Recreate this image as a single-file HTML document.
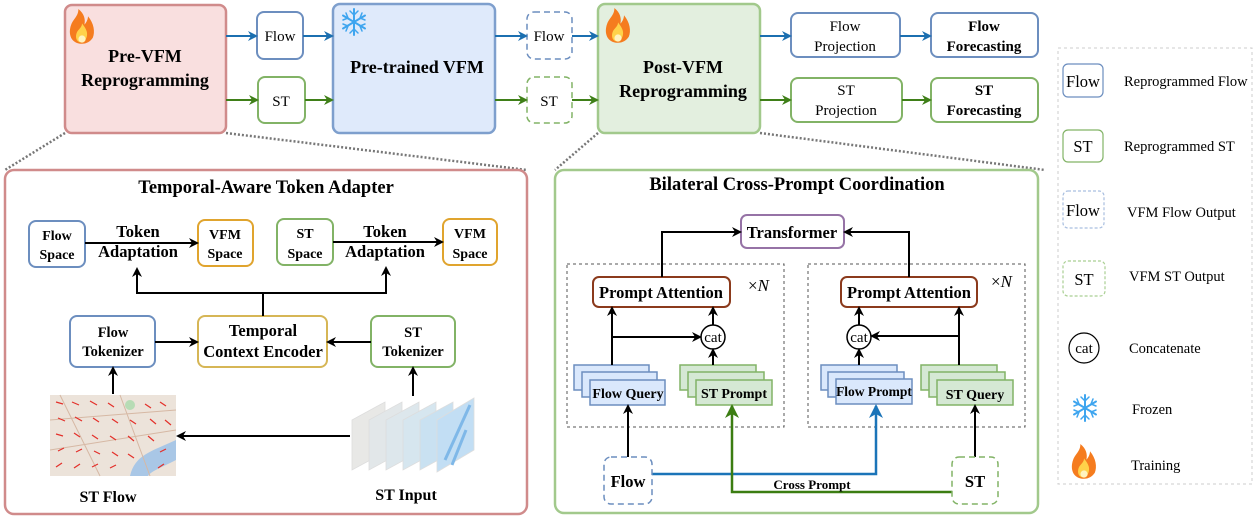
<!DOCTYPE html>
<html><head><meta charset="utf-8"><style>
html,body{margin:0;padding:0;background:#fff;}
svg{display:block;font-family:"Liberation Serif",serif;}
.b{font-weight:bold;}
</style></head><body>
<svg width="1259" height="521" viewBox="0 0 1259 521" xmlns="http://www.w3.org/2000/svg">
<defs>
<marker id="ak" markerWidth="10" markerHeight="10" refX="8" refY="5" orient="auto" markerUnits="userSpaceOnUse"><path d="M0,0 L10,5 L0,10 L3,5 z" fill="#000"/></marker>
<marker id="abl" markerWidth="10" markerHeight="10" refX="8" refY="5" orient="auto" markerUnits="userSpaceOnUse"><path d="M0,0 L10,5 L0,10 L3,5 z" fill="#1b6fb0"/></marker>
<marker id="agr" markerWidth="10" markerHeight="10" refX="8" refY="5" orient="auto" markerUnits="userSpaceOnUse"><path d="M0,0 L10,5 L0,10 L3,5 z" fill="#3f7f18"/></marker>
<marker id="abl2" markerWidth="14" markerHeight="14" refX="12" refY="7" orient="auto" markerUnits="userSpaceOnUse"><path d="M0,0 L14,7 L0,14 L4,7 z" fill="#1b74b8"/></marker>
<marker id="agr2" markerWidth="14" markerHeight="14" refX="12" refY="7" orient="auto" markerUnits="userSpaceOnUse"><path d="M0,0 L14,7 L0,14 L4,7 z" fill="#3b7d12"/></marker>
<g id="flame"><path d="M0,14 C-9,14 -12,6 -9,-2 C-7,-7 -3,-9 -3,-15 C2,-11 3,-6 2,-2 C4,-4 5,-7 5,-9 C10,-3 11,4 9,9 C7,12 4,14 0,14 z" fill="#f57c1f"/><path d="M0,13 C-5,13 -6,8 -4,4 C-2,1 0,0 0,-3 C3,1 5,4 4,8 C3,11 2,13 0,13 z" fill="#ffd24a"/><ellipse cx="0" cy="10" rx="3" ry="3" fill="#fff3c0"/></g>
<g id="snow" stroke="#3ea5ef" stroke-width="2" stroke-linecap="round"><line x1="0" y1="-13" x2="0" y2="13"/><line x1="-11" y1="-6.5" x2="11" y2="6.5"/><line x1="-11" y1="6.5" x2="11" y2="-6.5"/><path d="M-4,-11 L0,-7 L4,-11 M-4,11 L0,7 L4,11 M-11,-2 L-6,-4 L-8,-9 M11,2 L6,4 L8,9 M-11,2 L-6,4 L-8,9 M11,-2 L6,-4 L8,-9" fill="none" stroke-width="1.5"/></g>
</defs>

<g stroke="#777" stroke-width="2.5" stroke-dasharray="2,2" fill="none">
<line x1="65" y1="133" x2="5" y2="170"/><line x1="226" y1="133" x2="527" y2="170"/>
<line x1="598" y1="133" x2="555" y2="170"/><line x1="760" y1="133" x2="1045" y2="170"/>
</g>

<rect x="65" y="5" width="161" height="128" rx="7" fill="#f9dfdf" stroke="#d08b8b" stroke-width="2.5"/>
<g transform="translate(82,27) scale(1.2)"><use href="#flame"/></g>
<text x="145" y="62" text-anchor="middle" class="b" font-size="18">Pre-VFM</text>
<text x="145" y="86" text-anchor="middle" class="b" font-size="18">Reprogramming</text>

<rect x="257" y="12" width="46" height="47" rx="7" fill="#fff" stroke="#6c8ebf" stroke-width="2"/>
<text x="280" y="41" text-anchor="middle" font-size="15">Flow</text>
<rect x="258" y="77" width="47" height="46" rx="7" fill="#fff" stroke="#82b366" stroke-width="2"/>
<text x="281" y="106" text-anchor="middle" font-size="15">ST</text>

<rect x="333" y="4" width="162" height="129" rx="7" fill="#dfeafb" stroke="#7e9fcd" stroke-width="2.5"/>
<use href="#snow" x="354" y="22"/>
<text x="417" y="73" text-anchor="middle" class="b" font-size="18">Pre-trained VFM</text>

<rect x="527" y="12" width="45" height="47" rx="7" fill="#fff" stroke="#6c8ebf" stroke-width="1.5" stroke-dasharray="6,4"/>
<text x="549" y="41" text-anchor="middle" font-size="15">Flow</text>
<rect x="527" y="77" width="45" height="46" rx="7" fill="#fff" stroke="#82b366" stroke-width="1.5" stroke-dasharray="6,4"/>
<text x="549" y="106" text-anchor="middle" font-size="15">ST</text>

<rect x="598" y="4" width="162" height="129" rx="7" fill="#e3efdf" stroke="#a2c98c" stroke-width="2.5"/>
<g transform="translate(618,26) scale(1.2)"><use href="#flame"/></g>
<text x="683" y="73" text-anchor="middle" class="b" font-size="18">Post-VFM</text>
<text x="683" y="97" text-anchor="middle" class="b" font-size="18">Reprogramming</text>

<rect x="791" y="13" width="109" height="44" rx="7" fill="#fff" stroke="#6c8ebf" stroke-width="2"/>
<text x="845" y="31" text-anchor="middle" font-size="15">Flow</text>
<text x="845" y="51" text-anchor="middle" font-size="15">Projection</text>
<rect x="931" y="13" width="107" height="44" rx="7" fill="#fff" stroke="#6c8ebf" stroke-width="2"/>
<text x="984" y="31" text-anchor="middle" class="b" font-size="15">Flow</text>
<text x="984" y="51" text-anchor="middle" class="b" font-size="15">Forecasting</text>
<rect x="791" y="78" width="111" height="44" rx="7" fill="#fff" stroke="#82b366" stroke-width="2"/>
<text x="846" y="95" text-anchor="middle" font-size="15">ST</text>
<text x="846" y="115" text-anchor="middle" font-size="15">Projection</text>
<rect x="931" y="78" width="107" height="44" rx="7" fill="#fff" stroke="#82b366" stroke-width="2"/>
<text x="984" y="95" text-anchor="middle" class="b" font-size="15">ST</text>
<text x="984" y="115" text-anchor="middle" class="b" font-size="15">Forecasting</text>

<g stroke-width="2" fill="none">
<g stroke="#1b6fb0" marker-end="url(#abl)">
<line x1="226" y1="36" x2="256" y2="36"/><line x1="303" y1="36" x2="332" y2="36"/>
<line x1="495" y1="36" x2="526" y2="36"/><line x1="572" y1="36" x2="597" y2="36"/>
<line x1="760" y1="36" x2="790" y2="36"/><line x1="900" y1="36" x2="930" y2="36"/>
</g>
<g stroke="#3f7f18" marker-end="url(#agr)">
<line x1="226" y1="100" x2="257" y2="100"/><line x1="305" y1="100" x2="332" y2="100"/>
<line x1="495" y1="100" x2="526" y2="100"/><line x1="572" y1="100" x2="597" y2="100"/>
<line x1="760" y1="100" x2="790" y2="100"/><line x1="902" y1="100" x2="930" y2="100"/>
</g>
</g>

<!-- legend -->
<rect x="1058" y="48" width="194" height="436" fill="none" stroke="#ccc" stroke-width="1" stroke-dasharray="3,3"/>
<rect x="1063" y="64" width="40" height="33" rx="5" fill="#fff" stroke="#6c8ebf" stroke-width="1.2"/>
<text x="1083" y="87" text-anchor="middle" font-size="16.5">Flow</text>
<text x="1124" y="86" font-size="14.5">Reprogrammed Flow</text>
<rect x="1063" y="130" width="40" height="32" rx="5" fill="#fff" stroke="#82b366" stroke-width="1.2"/>
<text x="1083" y="152" text-anchor="middle" font-size="16.5">ST</text>
<text x="1124" y="151" font-size="14.5">Reprogrammed ST</text>
<rect x="1063" y="191" width="41" height="37" rx="5" fill="#fff" stroke="#a9bfe0" stroke-width="1.2" stroke-dasharray="3,2"/>
<text x="1083" y="216" text-anchor="middle" font-size="16.5">Flow</text>
<text x="1127" y="217" font-size="14.5">VFM Flow Output</text>
<rect x="1063" y="261" width="42" height="35" rx="5" fill="#fff" stroke="#a9cf92" stroke-width="1.2" stroke-dasharray="3,2"/>
<text x="1084" y="285" text-anchor="middle" font-size="16.5">ST</text>
<text x="1129" y="281" font-size="14.5">VFM ST Output</text>
<circle cx="1084" cy="348" r="15" fill="#fff" stroke="#000" stroke-width="1.2"/>
<text x="1084" y="353" text-anchor="middle" font-size="15">cat</text>
<text x="1129" y="353" font-size="14.5">Concatenate</text>
<use href="#snow" x="1085" y="408"/>
<text x="1132" y="414" font-size="14.5">Frozen</text>
<g transform="translate(1084,462) scale(1.2)"><use href="#flame"/></g>
<text x="1131" y="470" font-size="14.5">Training</text>

<!-- left panel -->
<rect x="5" y="170" width="522" height="344" rx="9" fill="#fff" stroke="#d08b8b" stroke-width="2.5"/>
<text x="266" y="193" text-anchor="middle" class="b" font-size="18.5">Temporal-Aware Token Adapter</text>

<rect x="29" y="221" width="56" height="46" rx="7" fill="#fff" stroke="#6c8ebf" stroke-width="2"/>
<text x="57" y="240" text-anchor="middle" class="b" font-size="14">Flow</text>
<text x="57" y="259" text-anchor="middle" class="b" font-size="14">Space</text>
<text x="138" y="237" text-anchor="middle" class="b" font-size="16.5">Token</text>
<text x="138" y="257" text-anchor="middle" class="b" font-size="16.5">Adaptation</text>
<rect x="198" y="220" width="55" height="46" rx="7" fill="#fff" stroke="#e0a42e" stroke-width="2"/>
<text x="225" y="239" text-anchor="middle" class="b" font-size="14">VFM</text>
<text x="225" y="258" text-anchor="middle" class="b" font-size="14">Space</text>
<rect x="277" y="219" width="56" height="46" rx="7" fill="#fff" stroke="#82b366" stroke-width="2"/>
<text x="305" y="238" text-anchor="middle" class="b" font-size="14">ST</text>
<text x="305" y="258" text-anchor="middle" class="b" font-size="14">Space</text>
<text x="385" y="237" text-anchor="middle" class="b" font-size="16.5">Token</text>
<text x="385" y="257" text-anchor="middle" class="b" font-size="16.5">Adaptation</text>
<rect x="443" y="219" width="54" height="46" rx="7" fill="#fff" stroke="#e0a42e" stroke-width="2"/>
<text x="470" y="238" text-anchor="middle" class="b" font-size="14">VFM</text>
<text x="470" y="258" text-anchor="middle" class="b" font-size="14">Space</text>

<rect x="70" y="316" width="85" height="51" rx="7" fill="#fff" stroke="#6c8ebf" stroke-width="2"/>
<text x="113" y="337" text-anchor="middle" class="b" font-size="14.5">Flow</text>
<text x="113" y="356" text-anchor="middle" class="b" font-size="14.5">Tokenizer</text>
<rect x="198" y="316" width="129" height="51" rx="7" fill="#fff" stroke="#d6b656" stroke-width="2"/>
<text x="263" y="336" text-anchor="middle" class="b" font-size="16.5">Temporal</text>
<text x="263" y="357" text-anchor="middle" class="b" font-size="16.5">Context Encoder</text>
<rect x="371" y="316" width="84" height="51" rx="7" fill="#fff" stroke="#82b366" stroke-width="2"/>
<text x="413" y="337" text-anchor="middle" class="b" font-size="14.5">ST</text>
<text x="413" y="356" text-anchor="middle" class="b" font-size="14.5">Tokenizer</text>

<g stroke="#000" stroke-width="2" fill="none">
<line x1="85" y1="243" x2="197" y2="243" marker-end="url(#ak)"/>
<line x1="333" y1="242" x2="442" y2="242" marker-end="url(#ak)"/>
<polyline points="263,316 263,293 137,293 137,269" marker-end="url(#ak)"/>
<polyline points="263,293 386,293 386,268" marker-end="url(#ak)"/>
<line x1="155" y1="342" x2="197" y2="342" marker-end="url(#ak)"/>
<line x1="371" y1="342" x2="328" y2="342" marker-end="url(#ak)"/>
<line x1="113" y1="394" x2="113" y2="368" marker-end="url(#ak)"/>
<line x1="413" y1="396" x2="413" y2="368" marker-end="url(#ak)"/>
<line x1="350" y1="436" x2="178" y2="436" marker-end="url(#ak)"/>
</g>

<rect x="50" y="395" width="126" height="81" fill="#ece3da"/>
<path d="M130,476 C135,455 150,452 176,440 L176,460 C160,468 150,472 148,476 z" fill="#a9c7e6"/>
<path d="M50,420 L176,410 M60,395 L100,476 M50,450 L176,430 M120,395 L150,476" stroke="#d6b8a4" stroke-width="1" fill="none"/>
<circle cx="130" cy="405" r="5" fill="#b7dcb5"/>
<g stroke="#e3302a" stroke-width="1.2">
<line x1="56" y1="402" x2="63" y2="404"/><line x1="72" y1="402" x2="79" y2="405"/><line x1="90" y1="401" x2="97" y2="405"/><line x1="108" y1="403" x2="114" y2="407"/><line x1="145" y1="404" x2="151" y2="408"/><line x1="160" y1="402" x2="166" y2="406"/>
<line x1="58" y1="418" x2="65" y2="421"/><line x1="75" y1="417" x2="82" y2="421"/><line x1="93" y1="418" x2="99" y2="422"/><line x1="112" y1="419" x2="118" y2="423"/><line x1="130" y1="420" x2="136" y2="424"/><line x1="150" y1="419" x2="156" y2="424"/><line x1="165" y1="420" x2="171" y2="425"/>
<line x1="56" y1="434" x2="63" y2="436"/><line x1="74" y1="433" x2="80" y2="437"/><line x1="92" y1="435" x2="98" y2="439"/><line x1="110" y1="436" x2="116" y2="440"/><line x1="128" y1="436" x2="134" y2="441"/><line x1="148" y1="436" x2="154" y2="441"/>
<line x1="58" y1="451" x2="64" y2="448"/><line x1="76" y1="452" x2="82" y2="449"/><line x1="94" y1="451" x2="100" y2="454"/><line x1="112" y1="452" x2="118" y2="456"/><line x1="128" y1="454" x2="134" y2="458"/><line x1="160" y1="452" x2="166" y2="449"/>
<line x1="56" y1="467" x2="62" y2="463"/><line x1="74" y1="468" x2="80" y2="464"/><line x1="92" y1="467" x2="98" y2="464"/><line x1="110" y1="468" x2="116" y2="465"/><line x1="158" y1="468" x2="164" y2="464"/>
</g>
<g stroke="#ddd" stroke-width="0.8">
<polygon points="352,420 385,402 385,452 352,470" fill="#e8e8e6"/>
<polygon points="369,420 402,402 402,452 369,470" fill="#e2e7e9"/>
<polygon points="386,420 419,402 419,452 386,470" fill="#dde7ec"/>
<polygon points="403,420 436,402 436,452 403,470" fill="#d6e6ef"/>
<polygon points="420,420 453,402 453,452 420,470" fill="#c9e1f1"/>
<polygon points="437,420 474,398 474,450 437,472" fill="#c2def4"/>
</g>
<path d="M445,460 L470,405 M452,465 L466,430" stroke="#7fb8e8" stroke-width="3"/>
<text x="108" y="502" text-anchor="middle" class="b" font-size="16">ST Flow</text>
<text x="406" y="500" text-anchor="middle" class="b" font-size="16">ST Input</text>

<!-- right panel -->
<rect x="555" y="170" width="483" height="343" rx="9" fill="#fff" stroke="#a2c98c" stroke-width="2.5"/>
<text x="797" y="190" text-anchor="middle" class="b" font-size="18.5">Bilateral Cross-Prompt Coordination</text>

<rect x="741" y="215" width="103" height="33" rx="6" fill="#fff" stroke="#9673a6" stroke-width="2"/>
<text x="792" y="238" text-anchor="middle" class="b" font-size="16.5">Transformer</text>

<rect x="567" y="264" width="217" height="163" fill="none" stroke="#555" stroke-width="1" stroke-dasharray="3,3"/>
<rect x="808" y="264" width="217" height="163" fill="none" stroke="#555" stroke-width="1" stroke-dasharray="3,3"/>

<rect x="593" y="277" width="137" height="30" rx="6" fill="#fff" stroke="#8b3a1c" stroke-width="2"/>
<text x="661" y="298" text-anchor="middle" class="b" font-size="16.5">Prompt Attention</text>
<rect x="841" y="277" width="136" height="30" rx="6" fill="#fff" stroke="#8b3a1c" stroke-width="2"/>
<text x="909" y="298" text-anchor="middle" class="b" font-size="16.5">Prompt Attention</text>
<text x="748" y="291" font-size="17">×<tspan font-style="italic">N</tspan></text>
<text x="991" y="287" font-size="17">×<tspan font-style="italic">N</tspan></text>

<g stroke-width="1.5">
<rect x="574" y="365" width="75" height="25" fill="#dae8fc" stroke="#6c8ebf"/>
<rect x="582" y="372" width="75" height="25" fill="#dae8fc" stroke="#6c8ebf"/>
<rect x="590" y="380" width="75" height="25" fill="#dae8fc" stroke="#6c8ebf"/>
<rect x="680" y="365" width="76" height="25" fill="#d5e8d4" stroke="#82b366"/>
<rect x="688" y="372" width="76" height="25" fill="#d5e8d4" stroke="#82b366"/>
<rect x="696" y="380" width="76" height="25" fill="#d5e8d4" stroke="#82b366"/>
<rect x="821" y="365" width="76" height="25" fill="#dae8fc" stroke="#6c8ebf"/>
<rect x="828" y="372" width="76" height="25" fill="#dae8fc" stroke="#6c8ebf"/>
<rect x="836" y="379" width="76" height="25" fill="#dae8fc" stroke="#6c8ebf"/>
<rect x="921" y="365" width="76" height="25" fill="#d5e8d4" stroke="#82b366"/>
<rect x="929" y="372" width="76" height="25" fill="#d5e8d4" stroke="#82b366"/>
<rect x="937" y="380" width="76" height="25" fill="#d5e8d4" stroke="#82b366"/>
</g>
<text x="628" y="398" text-anchor="middle" class="b" font-size="14">Flow Query</text>
<text x="734" y="398" text-anchor="middle" class="b" font-size="14">ST Prompt</text>
<text x="874" y="396" text-anchor="middle" class="b" font-size="13.5">Flow Prompt</text>
<text x="975" y="399" text-anchor="middle" class="b" font-size="14">ST Query</text>

<circle cx="713" cy="337" r="12" fill="#fff" stroke="#000" stroke-width="1.5"/>
<text x="713" y="342" text-anchor="middle" font-size="15">cat</text>
<circle cx="859" cy="337" r="12" fill="#fff" stroke="#000" stroke-width="1.5"/>
<text x="859" y="342" text-anchor="middle" font-size="15">cat</text>

<g stroke="#000" stroke-width="2" fill="none">
<polyline points="662,277 662,232 740,232" marker-end="url(#ak)"/>
<polyline points="909,277 909,232 845,232" marker-end="url(#ak)"/>
<line x1="612" y1="365" x2="612" y2="308" marker-end="url(#ak)"/>
<line x1="612" y1="337" x2="700" y2="337" marker-end="url(#ak)"/>
<line x1="713" y1="325" x2="713" y2="308" marker-end="url(#ak)"/>
<line x1="713" y1="365" x2="713" y2="350" marker-end="url(#ak)"/>
<line x1="959" y1="365" x2="959" y2="308" marker-end="url(#ak)"/>
<line x1="959" y1="336" x2="872" y2="336" marker-end="url(#ak)"/>
<line x1="859" y1="325" x2="859" y2="308" marker-end="url(#ak)"/>
<line x1="859" y1="365" x2="859" y2="350" marker-end="url(#ak)"/>
<line x1="628" y1="457" x2="628" y2="406" marker-end="url(#ak)"/>
<line x1="975" y1="457" x2="975" y2="406" marker-end="url(#ak)"/>
</g>
<polyline points="652,474 876,474 876,406" fill="none" stroke="#1b74b8" stroke-width="2.5" marker-end="url(#abl2)"/>
<polyline points="952,492 732,492 732,406" fill="none" stroke="#3b7d12" stroke-width="2.5" marker-end="url(#agr2)"/>
<text x="812" y="489" text-anchor="middle" class="b" font-size="13">Cross Prompt</text>

<rect x="604" y="457" width="48" height="47" rx="7" fill="#fff" stroke="#6c8ebf" stroke-width="1.5" stroke-dasharray="6,4"/>
<text x="628" y="487" text-anchor="middle" class="b" font-size="16.5">Flow</text>
<rect x="952" y="457" width="46" height="47" rx="7" fill="#fff" stroke="#82b366" stroke-width="1.5" stroke-dasharray="6,4"/>
<text x="975" y="487" text-anchor="middle" class="b" font-size="16.5">ST</text>
</svg>
</body></html>
